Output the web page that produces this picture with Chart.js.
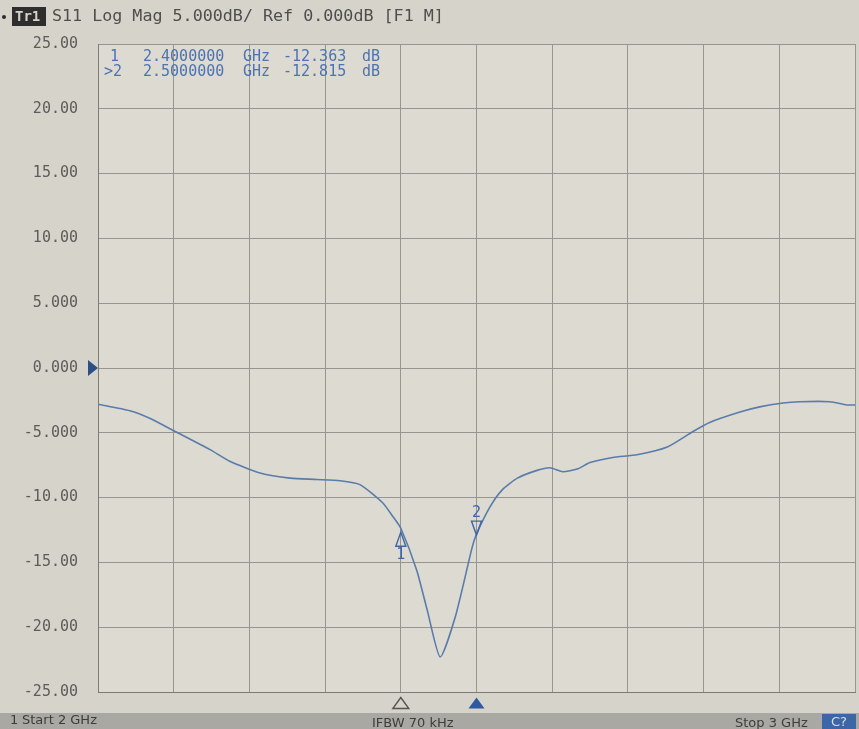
<!DOCTYPE html>
<html>
<head>
<meta charset="utf-8">
<title>S11 Log Mag</title>
<script src="https://cdn.jsdelivr.net/npm/chart.js@4.4.1/dist/chart.umd.min.js"></script>
<style>
  html, body { margin: 0; padding: 0; background: #d6d4ca; }
  #wrap { position: relative; width: 859px; height: 729px; }
</style>
</head>
<body>
<div id="wrap"><canvas id="s11Chart" width="859" height="729"></canvas></div>
<script>
// trace (GHz, dB)
var freqs = [2.0, 2.042, 2.069, 2.102, 2.148, 2.174, 2.214, 2.254, 2.289, 2.32,
  2.346, 2.376, 2.39, 2.4, 2.421, 2.435, 2.452, 2.472, 2.494, 2.5,
  2.518, 2.534, 2.554, 2.58, 2.597, 2.614, 2.633, 2.65, 2.68, 2.712,
  2.752, 2.786, 2.808, 2.848, 2.874, 2.905, 2.927, 2.967, 2.989, 3.0];
var s11 = [-2.8, -3.3, -3.9, -4.9, -6.3, -7.2, -8.1, -8.5, -8.6, -8.7,
  -9.0, -10.4, -11.5, -12.363, -15.6, -18.7, -22.3, -19.2, -13.9, -12.815,
  -10.7, -9.4, -8.5, -7.9, -7.7, -8.0, -7.8, -7.3, -6.9, -6.7,
  -6.1, -4.9, -4.2, -3.4, -3.0, -2.7, -2.6, -2.6, -2.85, -2.85];

var yTickValues = [-25, -20, -15, -10, -5, 0, 5, 10, 15, 20, 25];
var yTickLabels = ['-25.00', '-20.00', '-15.00', '-10.00', '-5.000', '0.000',
  '5.000', '10.00', '15.00', '20.00', '25.00'];

var markerIds = ['1', '2'];
var markerFreqs = [2.4, 2.5];
var markerValues = [-12.363, -12.815];
var markerRows = [
  ['1', '2.4000000', 'GHz', '-12.363', 'dB'],
  ['>2', '2.5000000', 'GHz', '-12.815', 'dB']
];

(function () {
  'use strict';

  var MONO = '"DejaVu Sans Mono", "Liberation Mono", monospace';
  var TRACE = '#5a7caa';
  var MARK = '#3f67a8';

  function tri(ctx, x, y, w, h, up, fill) {
    ctx.beginPath();
    if (up) {
      ctx.moveTo(x, y - h / 2);
      ctx.lineTo(x + w / 2, y + h / 2);
      ctx.lineTo(x - w / 2, y + h / 2);
    } else {
      ctx.moveTo(x - w / 2, y - h / 2);
      ctx.lineTo(x + w / 2, y - h / 2);
      ctx.lineTo(x, y + h / 2);
    }
    ctx.closePath();
    if (fill) { ctx.fillStyle = fill; ctx.fill(); } else { ctx.stroke(); }
  }

  var screenPlugin = {
    id: 'screen',
    beforeDraw: function (chart) {
      var ctx = chart.ctx;
      ctx.save();
      ctx.fillStyle = '#d6d4ca';
      ctx.fillRect(0, 0, chart.width, chart.height);
      ctx.fillStyle = '#dcdad1';
      ctx.fillRect(chart.chartArea.left, chart.chartArea.top,
        chart.chartArea.right - chart.chartArea.left,
        chart.chartArea.bottom - chart.chartArea.top);
      ctx.restore();
    },
    afterDraw: function (chart) {
      var ctx = chart.ctx;
      var xs = chart.scales.x, ys = chart.scales.y;
      var area = chart.chartArea;
      ctx.save();

      // header line
      ctx.fillStyle = '#2e2e2e';
      ctx.fillRect(12, 7, 34, 19);
      ctx.fillStyle = '#d6d4ca';
      ctx.font = 'bold 14px ' + MONO;
      ctx.textBaseline = 'middle';
      ctx.fillText('Tr1', 15, 17);
      ctx.fillStyle = '#4e4e4e';
      ctx.font = '16.7px ' + MONO;
      ctx.fillText('S11 Log Mag 5.000dB/ Ref 0.000dB [F1 M]', 52, 17);
      ctx.fillStyle = '#2a2a2a';
      ctx.beginPath();
      ctx.arc(4, 17, 2, 0, Math.PI * 2);
      ctx.fill();

      // marker readout
      ctx.fillStyle = '#4d73b0';
      ctx.font = '15px ' + MONO;
      var cols = [110, 143, 243, 283, 362];
      markerRows.forEach(function (row, r) {
        row.forEach(function (txt, c) {
          var x = cols[c];
          if (c === 0 && txt.length > 1) x -= 6;
          ctx.fillText(txt, x, 57 + r * 15);
        });
      });

      // reference position arrow at 0 dB
      var y0 = ys.getPixelForValue(0);
      ctx.fillStyle = '#2d4f86';
      ctx.beginPath();
      ctx.moveTo(area.left - 10, y0 - 8);
      ctx.lineTo(area.left, y0);
      ctx.lineTo(area.left - 10, y0 + 8);
      ctx.closePath();
      ctx.fill();

      // markers on the trace
      ctx.strokeStyle = MARK;
      ctx.lineWidth = 1.4;
      ctx.font = '15px ' + MONO;
      ctx.textAlign = 'center';
      markerFreqs.forEach(function (f, i) {
        var px = xs.getPixelForValue(f);
        var py = ys.getPixelForValue(markerValues[i]);
        ctx.fillStyle = MARK;
        if (i === 0) {
          tri(ctx, px, py + 11, 10, 14, true);
          ctx.fillText(markerIds[i], px, py + 27);
        } else {
          tri(ctx, px, py - 6, 10, 14, false);
          ctx.fillText(markerIds[i], px, py - 21);
        }
        // bottom stimulus markers
        var by = area.bottom + 11;
        if (i === 0) {
          ctx.strokeStyle = '#555';
          tri(ctx, px, by, 16, 11, true);
          ctx.strokeStyle = MARK;
        } else {
          tri(ctx, px, by, 16, 11, true, '#2f5aa0');
        }
      });
      ctx.textAlign = 'left';

      // status bar
      ctx.fillStyle = '#a9a8a3';
      ctx.fillRect(0, 713, chart.width, 16);
      ctx.fillStyle = '#3d3d3d';
      ctx.font = '13px "DejaVu Sans", sans-serif';
      ctx.fillText('1', 10, 721);
      ctx.fillText('Start 2 GHz', 22, 721);
      ctx.fillText('IFBW 70 kHz', 372, 724);
      ctx.fillText('Stop 3 GHz', 735, 724);
      ctx.fillStyle = '#3c66a8';
      ctx.fillRect(822, 714, 34, 15);
      ctx.fillStyle = '#d8dde8';
      ctx.fillText('C?', 831, 723);
      ctx.restore();
    }
  };

  function initChart() {
    if (typeof Chart === 'undefined') return;
    var el = document.getElementById('s11Chart');
    var points = freqs.map(function (f, i) { return { x: f, y: s11[i] }; });

    new Chart(el, {
      type: 'line',
      data: {
        datasets: [{
          label: 'S11',
          data: points,
          borderColor: TRACE,
          borderWidth: 1.6,
          pointRadius: 0,
          fill: false,
          tension: 0.2
        }]
      },
      options: {
        responsive: false,
        animation: false,
        layout: { padding: { top: 44, right: 4, bottom: 37, left: 0 } },
        plugins: {
          legend: { display: false },
          tooltip: { enabled: false }
        },
        scales: {
          x: {
            type: 'linear',
            min: 2,
            max: 3,
            ticks: { display: false, stepSize: 0.1 },
            grid: { color: '#96958f', lineWidth: 1, drawTicks: false },
            border: { color: '#7c7b77' },
            afterFit: function (s) { s.height = 0; }
          },
          y: {
            min: -25,
            max: 25,
            afterBuildTicks: function (s) {
              s.ticks = yTickValues.map(function (v) { return { value: v }; });
            },
            ticks: {
              color: '#5c5c5a',
              padding: 20,
              font: { family: MONO, size: 15 },
              callback: function (v) {
                var k = yTickValues.indexOf(v);
                return k >= 0 ? yTickLabels[k] : '';
              }
            },
            grid: { color: '#96958f', lineWidth: 1, drawTicks: false },
            border: { color: '#7c7b77' },
            afterFit: function (s) { s.width = 98; }
          }
        }
      },
      plugins: [screenPlugin]
    });
  }

  initChart();
})();
</script>
</body>
</html>
